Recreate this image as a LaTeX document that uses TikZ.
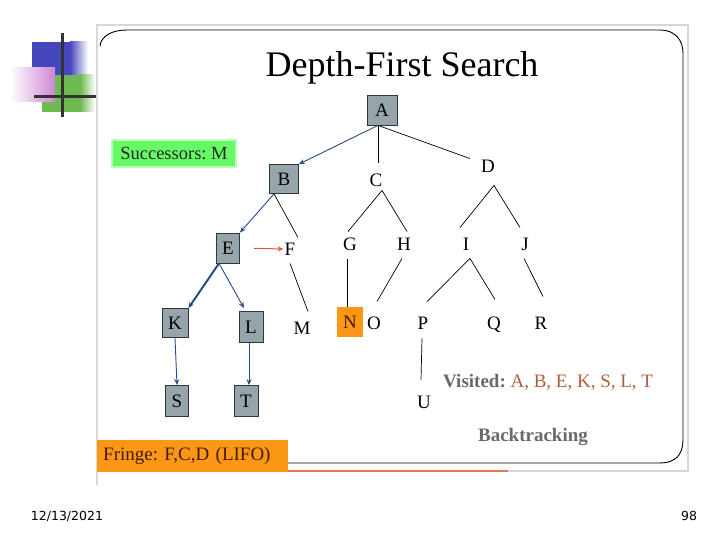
\documentclass[tikz,border=0pt]{standalone}
\usepackage{fontspec}
\setmainfont{Liberation Serif}
\newfontfamily\datefont{DejaVu Sans}
\usetikzlibrary{arrows.meta,positioning}
\frenchspacing

\definecolor{boxgray}{RGB}{149,165,170}
\definecolor{boxedge}{RGB}{45,55,65}
\definecolor{arrowblue}{RGB}{40,75,140}
\definecolor{succgreen}{RGB}{102,250,102}
\definecolor{fringeorange}{RGB}{250,152,22}
\definecolor{fringetext}{RGB}{70,25,0}
\definecolor{visitgray}{RGB}{105,105,105}
\definecolor{visitred}{RGB}{175,95,65}
\definecolor{decoblue}{RGB}{70,70,190}
\definecolor{decogreen}{RGB}{110,185,80}
\definecolor{decopink}{RGB}{205,135,210}
\definecolor{framegray}{RGB}{215,215,215}
\definecolor{lineorange}{RGB}{220,125,75}
\definecolor{nextorange}{RGB}{215,95,50}

\begin{document}
\begin{tikzpicture}[x=1pt,y=-1pt,
  letter/.style={font=\fontsize{19}{19}\selectfont,text height=12.5pt,text depth=0pt,inner sep=1pt},
  visbox/.style={letter,draw=boxedge,fill=boxgray,line width=0.8pt,minimum height=30pt},
  tline/.style={line width=0.7pt},
  barrow/.style={arrowblue,line width=0.9pt,-{Stealth[length=6pt,width=5pt]}}]
  \useasboundingbox (0,0) rectangle (720,540);
  \fill[white] (0,0) rectangle (720,540);
  \begin{scope}
    \fill[decoblue] (32,42) rectangle (70,75);
    \shade[left color=decoblue,right color=white] (70,42) rectangle (88,75);
    \fill[decogreen] (42,75) rectangle (80,112);
    \shade[left color=decogreen,right color=white] (80,75) rectangle (95,112);
    \shade[left color=white,right color=decopink] (10,68) rectangle (55,102);
    \draw[black!80,line width=3pt] (62,33) -- (62,117);
    \draw[black!80,line width=3pt] (34,97) -- (96,97);
  \end{scope}
  \draw[framegray,line width=1.2pt] (97,25) rectangle (688,471);
  \draw[framegray,line width=1.2pt] (97,471) -- (97,485);
  \draw[line width=0.9pt] (100,46) .. controls (101,36) and (112,30) .. (127,30) -- (660,30)
    .. controls (675,30) and (683,40) .. (683,53) -- (683,440)
    .. controls (683,455) and (675,463) .. (660,463) -- (288,463);
  \draw[lineorange,line width=2.5pt] (97,471) -- (508,471);
  \node[font=\fontsize{36}{36}\selectfont,anchor=base] (title) at (402,77) {Depth-First Search};
  \node[fill=succgreen,draw=succgreen!45,line width=2pt,minimum width=124pt,minimum height=27pt,
    inner sep=2pt,font=\fontsize{18.5}{19}\selectfont,text=black!85] (succ) at (174,154) {Successors: M};
  \node[visbox,minimum width=30pt] (A) at (382,110) {A};
  \node[visbox,minimum width=29pt,minimum height=29pt] (B) at (284,179) {B};
  \node[letter] (C) at (376,180) {C};
  \node[letter] (D) at (488,166) {D};
  \node[visbox,minimum width=23pt] (E) at (228,248) {E};
  \node[letter] (F) at (290,249) {F};
  \node[letter] (G) at (350,244) {G};
  \node[letter] (H) at (404,244) {H};
  \node[letter] (I) at (466,244) {I};
  \node[letter] (J) at (525,244) {J};
  \node[visbox,minimum width=26pt,minimum height=29pt] (K) at (175,323) {K};
  \node[visbox,minimum width=24pt,minimum height=31pt] (L) at (251,327) {L};
  \node[letter] (M) at (302,328) {M};
  \node[letter,fill=fringeorange,text=fringetext,minimum width=26pt,minimum height=30pt] (N) at (350,322) {N};
  \node[letter] (O) at (374,323) {O};
  \node[letter] (P) at (423,323) {P};
  \node[letter] (Q) at (494,323) {Q};
  \node[letter] (R) at (541,323) {R};
  \node[visbox,minimum width=23pt,minimum height=31pt] (S) at (177,401) {S};
  \node[visbox,minimum width=24pt,minimum height=31pt] (T) at (246,401) {T};
  \node[letter] (U) at (424,402) {U};
  \draw[barrow] ([xshift=-4pt]A.south) -- (B.north east);
  \draw[tline] ([xshift=-4pt]A.south) -- ([xshift=2pt,yshift=10pt]C.north);
  \draw[tline] ([xshift=-4pt]A.south) -- ([xshift=-18pt]D.north);
  \draw[barrow] ([xshift=-10pt]B.south) -- (E.north east);
  \draw[tline] ([xshift=-10pt]B.south) -- ([xshift=8pt,yshift=4pt]F.north);
  \draw[nextorange,line width=1pt,-{Stealth[length=6pt,width=5pt]}] (E.east) -- (F.west) [shorten <=14pt];
  \draw[barrow,line width=2pt] ([xshift=-9pt]E.south) -- (K.north east);
  \draw[barrow] ([xshift=-9pt]E.south) -- ([xshift=-7pt,yshift=3pt]L.north);
  \draw[tline] ([yshift=-7pt]F.south) -- ([xshift=6pt,yshift=9pt]M.north);
  \draw[tline] ([xshift=6pt,yshift=-3pt]C.south) -- ([xshift=-2pt,yshift=5pt]G.north);
  \draw[tline] ([xshift=6pt,yshift=-3pt]C.south) -- ([xshift=3pt,yshift=5pt]H.north);
  \draw[tline] ([xshift=6pt,yshift=-12pt]D.south) -- ([xshift=-6pt,yshift=9pt]I.north);
  \draw[tline] ([xshift=6pt,yshift=-12pt]D.south) -- ([xshift=-5pt,yshift=9pt]J.north);
  \draw[tline] ([xshift=-3pt,yshift=-8pt]G.south) -- ([xshift=-3pt]N.north);
  \draw[tline] ([xshift=-2pt,yshift=-7pt]H.south) -- ([xshift=3pt,yshift=14pt]O.north);
  \draw[tline] ([xshift=4pt,yshift=-7pt]I.south) -- ([xshift=4pt,yshift=14pt]P.north);
  \draw[tline] ([xshift=4pt,yshift=-7pt]I.south) -- ([xshift=1pt,yshift=16pt]Q.north);
  \draw[tline] ([xshift=-1pt,yshift=-7pt]J.south) -- ([xshift=2pt,yshift=19pt]R.north);
  \draw[barrow] (K.south) -- (S.north);
  \draw[barrow] ([xshift=-2pt]L.south) -- ([xshift=3pt]T.north);
  \draw[tline] ([xshift=-1pt,yshift=-8pt]P.south) -- ([xshift=-3pt,yshift=15pt]U.north);
  \node[anchor=west,font=\fontsize{19}{19}\selectfont,text=visitred,inner sep=0pt] (visited) at (443,382)
    {\textcolor{visitgray}{\textbf{Visited:}} A, B, E, K, S, L, T};
  \node[font=\bfseries\fontsize{19}{19}\selectfont,text=visitgray] (back) at (533,437) {Backtracking};
  \node[anchor=north west,fill=fringeorange,text=fringetext,text width=179pt,inner xsep=6pt,
    minimum height=32pt,align=left,font=\fontsize{19}{19}\selectfont] (fringe) at (97,440) {Fringe: F,C,D (LIFO)};
  \node[font=\datefont\fontsize{12.5}{13}\selectfont] (date) at (67,516) {12/13/2021};
  \node[font=\datefont\fontsize{12.5}{13}\selectfont] (page) at (689,516) {98};
\end{tikzpicture}
\end{document}
